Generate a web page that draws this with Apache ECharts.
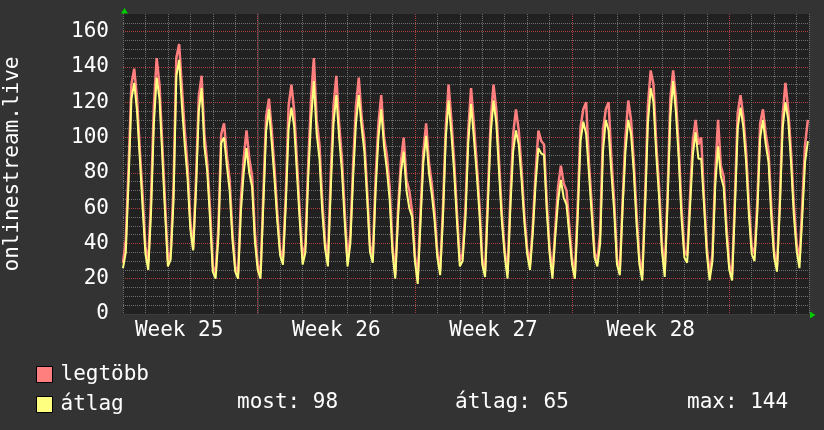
<!DOCTYPE html>
<html>
<head>
<meta charset="utf-8">
<script src="https://cdn.jsdelivr.net/npm/echarts@6/dist/echarts.min.js"></script>
<style>
  html, body { margin: 0; padding: 0; background: #333333; }
  #chart { width: 824px; height: 430px; }
</style>
</head>
<body>
<div id="chart"></div>
<script>
// x is measured in days, 0 = Monday that starts week 26
const firstDay = -6;
const lastDay = 24.55;
const samplesPerDay = 8;

const seriesNames = ["legtöbb", "átlag"];
const weekLabels = ["Week 25", "Week 26", "Week 27", "Week 28"];
const weekLabelDays = [-3.5, 3.5, 10.5, 17.5];
const weekStartDays = [0, 7, 14, 21];
const statLabels = ["most: 98", "átlag: 65", "max: 144"];

// legtöbb (max), 8 readings per day
const maxVals = [
  29, 42, 84, 130, 139, 122, 93, 67,
  38, 29, 66, 118, 145, 130, 96, 63,
  30, 35, 72, 145, 153, 128, 104, 84,
  52, 37, 76, 123, 135, 102, 86, 60,
  27, 23, 50, 102, 108, 90, 76, 46,
  27, 23, 65, 88, 104, 88, 78, 46,
  28, 23, 68, 112, 122, 104, 82, 57,
  36, 32, 68, 118, 130, 115, 86, 57,
  31, 40, 86, 122, 145, 110, 96, 64,
  41, 31, 78, 118, 135, 108, 88, 58,
  30, 45, 85, 118, 134, 112, 98, 70,
  39, 33, 77, 108, 124, 100, 90, 72,
  39, 22, 60, 86, 100, 76, 70, 58,
  33, 21, 58, 92, 108, 86, 74, 58,
  35, 25, 60, 106, 130, 110, 86, 57,
  30, 34, 60, 104, 128, 108, 86, 62,
  31, 24, 68, 110, 130, 116, 86, 56,
  36, 23, 66, 102, 116, 104, 82, 56,
  37, 28, 50, 80, 104, 98, 96, 63,
  37, 23, 48, 72, 84, 74, 70, 50,
  31, 23, 62, 106, 116, 120, 86, 62,
  35, 30, 46, 104, 116, 120, 88, 64,
  31, 25, 64, 100, 121, 110, 86, 56,
  31, 22, 66, 118, 138, 130, 96, 72,
  40, 24, 68, 122, 138, 122, 94, 60,
  36, 33, 66, 98, 110, 96, 100, 66,
  38, 22, 34, 80, 110, 84, 78, 50,
  28, 22, 66, 114, 124, 112, 92, 62,
  38, 34, 64, 108, 116, 102, 92, 60,
  35, 27, 64, 112, 131, 116, 92, 62,
  40, 30, 62, 96, 110
];

// átlag (average)
const avgVals = [
  26, 35, 76, 122, 131, 115, 88, 60,
  34, 25, 58, 108, 134, 122, 90, 57,
  27, 31, 64, 135, 144, 118, 96, 77,
  48, 36, 70, 115, 128, 95, 81, 54,
  24, 20, 44, 97, 100, 84, 70, 42,
  24, 20, 58, 80, 94, 80, 72, 41,
  25, 20, 62, 104, 116, 97, 76, 52,
  33, 28, 62, 105, 117, 106, 79, 52,
  28, 35, 78, 110, 132, 102, 88, 58,
  37, 27, 70, 108, 124, 100, 81, 52,
  27, 40, 78, 108, 124, 106, 92, 65,
  35, 29, 70, 100, 116, 95, 82, 65,
  35, 20, 55, 80, 92, 70, 60, 55,
  30, 17, 52, 86, 101, 80, 68, 53,
  32, 22, 55, 100, 121, 102, 80, 52,
  27, 30, 54, 97, 119, 100, 80, 57,
  28, 21, 62, 102, 121, 108, 80, 52,
  33, 20, 60, 92, 104, 96, 76, 52,
  34, 25, 46, 74, 94, 91, 90, 58,
  34, 20, 44, 64, 76, 66, 62, 45,
  28, 20, 55, 98, 109, 102, 80, 56,
  32, 27, 40, 92, 110, 104, 80, 58,
  28, 22, 60, 92, 110, 102, 80, 50,
  28, 19, 60, 108, 128, 120, 90, 66,
  36, 21, 62, 112, 132, 114, 88, 54,
  32, 29, 60, 90, 103, 88, 88, 62,
  34, 19, 30, 73, 95, 78, 72, 45,
  25, 19, 60, 105, 117, 106, 86, 56,
  34, 30, 58, 100, 110, 96, 86, 54,
  32, 24, 60, 105, 120, 110, 86, 56,
  36, 26, 55, 86, 98
];

const font = '"DejaVu Sans Mono", monospace';
const minorGrid = "#6e6e6e";
const majorGrid = "#b04040";
const toPairs = vals => vals.map((v, i) => [firstDay + i / samplesPerDay, v]);

const chart = echarts.init(document.getElementById("chart"));
chart.setOption({
  backgroundColor: "#333333",
  animation: false,
  grid: {
    left: 123,
    right: 15,
    top: 14,
    bottom: 116,
    show: true,
    backgroundColor: "#212121",
    borderWidth: 0,
    outerBoundsMode: "none"
  },
  legend: {
    orient: "vertical",
    left: 31,
    top: 359,
    icon: "rect",
    itemWidth: 16,
    itemHeight: 16,
    itemGap: 9,
    selectedMode: false,
    itemStyle: { borderColor: "#000", borderWidth: 1 },
    textStyle: {
      color: "#ffffff",
      fontFamily: font,
      fontSize: 21,
      padding: [0, 0, 0, 3]
    },
    data: seriesNames
  },
  graphic: [
    ...statLabels.map((s, i) => ({
      type: "text",
      x: [237, 455, 687][i],
      y: 403,
      style: {
        text: s,
        fill: "#ffffff",
        font: "21px " + font,
        align: "left",
        verticalAlign: "middle"
      }
    })),
    {
      type: "polygon",
      shape: { points: [[121, 13.5], [128, 13.5], [124.5, 8]] },
      style: { fill: "#00cc00" }
    },
    {
      type: "polygon",
      shape: { points: [[810, 311.5], [810, 318.5], [815.5, 315]] },
      style: { fill: "#00cc00" }
    }
  ],
  xAxis: [
    {
      type: "value",
      min: firstDay,
      max: lastDay,
      interval: 1,
      axisLabel: { show: false },
      axisTick: { show: false },
      axisLine: { show: true, lineStyle: { color: "#3c3c3c", width: 1 } },
      splitLine: {
        show: true,
        lineStyle: { color: minorGrid, type: [1, 1], width: 1 }
      }
    },
    {
      type: "value",
      position: "bottom",
      min: firstDay,
      max: lastDay,
      interval: 0.5,
      axisLine: { show: false },
      axisTick: { show: false },
      splitLine: { show: false },
      axisLabel: {
        color: "#ffffff",
        fontFamily: font,
        fontSize: 21,
        margin: 6,
        showMaxLabel: false,
        formatter: v => {
          const k = weekLabelDays.indexOf(v);
          return k >= 0 ? weekLabels[k] : "";
        }
      }
    }
  ],
  yAxis: {
    type: "value",
    min: 0,
    max: 170,
    interval: 20,
    name: "onlinestream.live",
    nameLocation: "middle",
    nameRotate: 90,
    nameGap: 100,
    nameTextStyle: { color: "#ffffff", fontFamily: font, fontSize: 21 },
    axisLine: { show: true, lineStyle: { color: "#3c3c3c", width: 2 } },
    axisTick: { show: false },
    minorTick: { show: false, splitNumber: 4 },
    axisLabel: {
      color: "#ffffff",
      fontFamily: font,
      fontSize: 21,
      margin: 14,
      showMaxLabel: false
    },
    splitLine: {
      show: true,
      showMaxLine: false,
      lineStyle: { color: majorGrid, type: [1, 1], width: 1 }
    },
    minorSplitLine: {
      show: true,
      lineStyle: { color: minorGrid, type: [1, 1], width: 1 }
    }
  },
  series: [
    {
      name: seriesNames[0],
      type: "line",
      showSymbol: false,
      data: toPairs(maxVals),
      itemStyle: { color: "#ff7f7f" },
      lineStyle: { color: "#ff7f7f", width: 2.5 },
      markLine: {
        z: 1,
        silent: true,
        symbol: ["none", "none"],
        label: { show: false },
        lineStyle: { color: majorGrid, type: [1, 1], width: 1 },
        data: weekStartDays.map(d => [{ coord: [d, 170] }, { coord: [d, 0] }])
      }
    },
    {
      name: seriesNames[1],
      type: "line",
      showSymbol: false,
      data: toPairs(avgVals),
      itemStyle: { color: "#ffff7f" },
      lineStyle: { color: "#ffff7f", width: 2 }
    }
  ]
});
</script>
</body>
</html>
